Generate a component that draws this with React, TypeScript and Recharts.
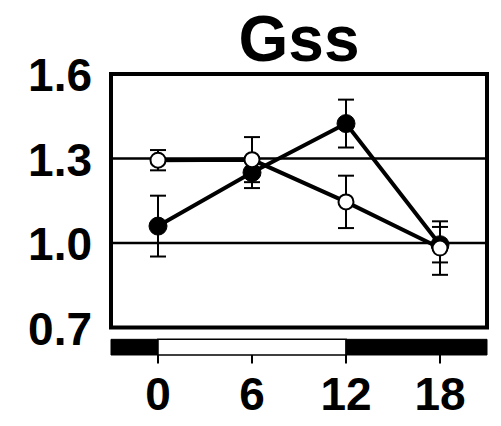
import React from 'react';
import { LineChart, Line, XAxis, YAxis, ErrorBar, ReferenceLine, ReferenceArea } from 'recharts';

const hours = [0, 6, 12, 18];
const filledMean = [1.06, 1.25, 1.424, 0.994];
const filledErr = [0.108, 0.055, 0.085, 0.063];
const openMean = [1.294, 1.296, 1.146, 0.982];
const openErr = [0.036, 0.08, 0.093, 0.095];
const yTicks = [0.7, 1.0, 1.3, 1.6];
const xTicks = [0, 6, 12, 18];
const gridValues = [1.0, 1.3];
const xDomain = [-3, 21];
const yDomain = [0.7, 1.6];
const lightPhase = [0, 12];
const title = 'Gss';

const data = hours.map((h, i) => ({
  h,
  filled: filledMean[i],
  filledErr: filledErr[i],
  open: openMean[i],
  openErr: openErr[i],
}));

const FONT = '"Liberation Sans", Arial, sans-serif';

// bar under plot, in data units below the y domain
const barTop = 0.658;
const barBottom = 0.6024;

const XTick = (props: any) => {
  const { x, y, payload } = props;
  return (
    <g>
      <line x1={x} x2={x} y1={y + 27.5} y2={y + 36} stroke="#000" strokeWidth={2} />
      <text x={x} y={y + 82.5} textAnchor="middle" fontFamily={FONT} fontWeight="bold" fontSize={46} fill="#000">
        {payload.value}
      </text>
    </g>
  );
};

const YTick = (props: any) => {
  const { x, y, payload } = props;
  return (
    <text x={x} y={y + 17} textAnchor="end" fontFamily={FONT} fontWeight="bold" fontSize={46} fill="#000">
      {Number(payload.value).toFixed(1)}
    </text>
  );
};

export default function App() {
  return (
    <div style={{ position: 'absolute', left: 0, top: 0, width: 501, height: 426, background: '#fff' }}>
      <svg width={501} height={80} style={{ position: 'absolute', left: 0, top: 0 }}>
        <text x={299} y={61} textAnchor="middle" fontFamily={FONT} fontWeight="bold" fontSize={64} fill="#000">
          {title}
        </text>
      </svg>
      <div style={{ position: 'absolute', left: 0, top: 0 }}>
        <LineChart width={501} height={426} data={data} margin={{ top: 74, right: 14, bottom: 0, left: 0 }}>
          <XAxis
            dataKey="h"
            type="number"
            domain={xDomain}
            ticks={xTicks}
            axisLine={false}
            tickLine={false}
            tickSize={0}
            tickMargin={0}
            height={98.5}
            tick={<XTick />}
            interval={0}
          />
          <YAxis
            type="number"
            domain={yDomain}
            ticks={yTicks}
            axisLine={false}
            tickLine={false}
            tickSize={0}
            tickMargin={19}
            width={111}
            tick={<YTick />}
            interval={0}
          />
          {gridValues.map((v) => (
            <ReferenceLine key={v} y={v} stroke="#000" strokeWidth={2.5} />
          ))}
          <ReferenceArea x1={xDomain[0]} x2={lightPhase[0]} y1={barBottom} y2={barTop} fill="#000" fillOpacity={1} stroke="#000" strokeWidth={1} ifOverflow="visible" />
          <ReferenceArea x1={lightPhase[0]} x2={lightPhase[1]} y1={barBottom} y2={barTop} fill="#fff" fillOpacity={1} stroke="#000" strokeWidth={1.5} ifOverflow="visible" />
          <ReferenceArea x1={lightPhase[1]} x2={xDomain[1]} y1={barBottom} y2={barTop} fill="#000" fillOpacity={1} stroke="#000" strokeWidth={1} ifOverflow="visible" />
          <ReferenceArea x1={xDomain[0]} x2={xDomain[1]} y1={yDomain[0]} y2={yDomain[1]} fill="none" stroke="#000" strokeWidth={4} ifOverflow="visible" />
          <Line
            dataKey="filled"
            stroke="#000"
            strokeWidth={4}
            isAnimationActive={false}
            dot={{ r: 9, fill: '#000', stroke: '#000', strokeWidth: 1 }}
            activeDot={false}
          >
            <ErrorBar dataKey="filledErr" width={8} strokeWidth={2} stroke="#000" direction="y" isAnimationActive={false} />
          </Line>
          <Line
            dataKey="open"
            stroke="#000"
            strokeWidth={4}
            isAnimationActive={false}
            dot={{ r: 7.5, fill: '#fff', stroke: '#000', strokeWidth: 2 }}
            activeDot={false}
          >
            <ErrorBar dataKey="openErr" width={8} strokeWidth={2} stroke="#000" direction="y" isAnimationActive={false} />
          </Line>
        </LineChart>
      </div>
    </div>
  );
}
